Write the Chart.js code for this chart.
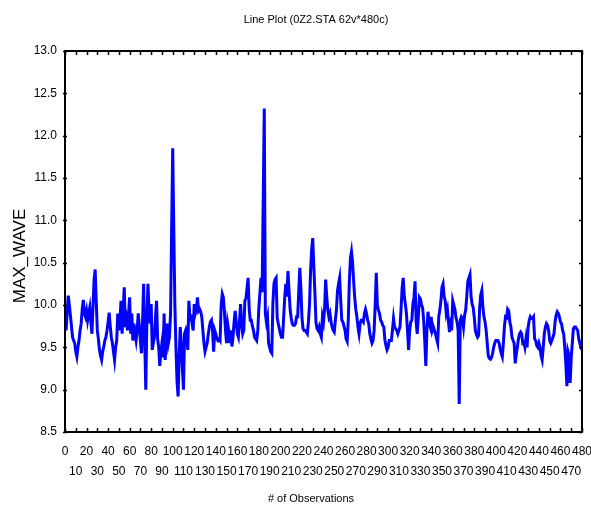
<!DOCTYPE html>
<html>
<head>
<meta charset="utf-8">
<script src="https://cdn.jsdelivr.net/npm/chart.js@4.4.1/dist/chart.umd.min.js"></script>
<style>
  html, body { margin: 0; padding: 0; background: #fff; }
  #wrap { width: 591px; height: 509px; }
</style>
</head>
<body>
<div id="wrap"><canvas id="grafica" width="591" height="509"></canvas></div>
<script>
// MAX_WAVE por observación (1..480)
const maxWave = [
  9.70, 9.90, 10.11, 10.00, 9.88, 9.75, 9.62, 9.58, 9.55, 9.45,
  9.39, 9.50, 9.58, 9.70, 9.78, 9.95, 10.06, 9.90, 9.86, 9.93,
  9.82, 9.90, 9.97, 9.80, 9.66, 9.97, 10.30, 10.42, 10.05, 9.70,
  9.60, 9.47, 9.40, 9.35, 9.45, 9.51, 9.58, 9.62, 9.70, 9.80,
  9.91, 9.75, 9.62, 9.55, 9.45, 9.35, 9.50, 9.58, 9.90, 9.70,
  9.82, 10.05, 9.66, 9.93, 10.21, 9.74, 9.82, 9.70, 9.90, 10.09,
  9.66, 9.90, 9.58, 9.78, 9.66, 9.58, 9.70, 9.90, 9.75, 9.58,
  9.43, 9.80, 10.25, 9.60, 9.00, 9.80, 10.25, 9.95, 9.78, 10.01,
  9.47, 9.55, 9.62, 9.85, 10.05, 9.60, 9.50, 9.28, 9.45, 9.55,
  9.38, 9.90, 9.35, 9.60, 9.78, 9.55, 9.62, 9.90, 10.90, 11.85,
  10.90, 10.00, 9.50, 9.10, 8.92, 9.40, 9.74, 9.55, 9.24, 9.00,
  9.66, 9.70, 9.62, 9.47, 10.05, 9.85, 9.86, 9.78, 9.70, 10.01,
  9.90, 9.95, 10.09, 9.93, 9.95, 9.92, 9.86, 9.70, 9.55, 9.45,
  9.50, 9.55, 9.65, 9.74, 9.80, 9.82, 9.70, 9.45, 9.70, 9.66,
  9.60, 9.58, 9.60, 9.58, 10.00, 10.13, 10.09, 9.93, 9.70, 9.55,
  9.78, 9.70, 9.55, 9.70, 9.51, 9.62, 9.80, 9.93, 9.80, 9.66,
  9.62, 9.80, 10.01, 9.78, 9.66, 9.70, 10.05, 10.08, 10.20, 10.32,
  9.95, 9.82, 9.82, 9.75, 9.70, 9.62, 9.60, 9.58, 9.70, 9.97,
  10.15, 10.32, 10.15, 11.20, 12.32, 9.90, 9.80, 9.86, 9.55, 9.50,
  9.45, 9.43, 10.01, 10.25, 10.30, 10.32, 9.85, 9.78, 9.72, 9.66,
  9.62, 9.62, 9.85, 10.09, 10.25, 10.10, 10.40, 10.17, 9.95, 9.85,
  9.78, 9.76, 9.76, 9.78, 9.86, 9.86, 10.15, 10.44, 10.20, 9.85,
  9.72, 9.70, 9.70, 9.68, 9.66, 9.80, 10.00, 10.40, 10.65, 10.79,
  10.45, 10.15, 9.80, 9.72, 9.70, 9.74, 9.66, 9.62, 9.86, 9.80,
  9.95, 10.30, 10.10, 9.94, 9.86, 9.90, 9.80, 9.74, 9.70, 9.68,
  9.82, 9.94, 10.17, 10.25, 10.32, 10.05, 9.82, 9.80, 9.75, 9.70,
  9.60, 9.57, 9.82, 10.28, 10.55, 10.63, 10.50, 10.28, 10.08, 9.95,
  9.86, 9.74, 9.66, 9.78, 9.82, 9.82, 9.80, 9.90, 9.95, 9.90,
  9.82, 9.78, 9.66, 9.60, 9.55, 9.58, 9.70, 10.00, 10.38, 10.00,
  9.94, 9.90, 9.82, 9.80, 9.76, 9.74, 9.59, 9.52, 9.47, 9.50,
  9.58, 9.58, 9.58, 9.70, 9.84, 9.74, 9.72, 9.70, 9.66, 9.70,
  9.74, 9.95, 10.20, 10.32, 10.10, 10.01, 9.90, 9.70, 9.47, 9.70,
  9.80, 9.82, 10.01, 10.09, 10.28, 9.80, 9.66, 9.85, 10.09, 10.07,
  10.00, 9.97, 9.82, 9.58, 9.28, 9.70, 9.92, 9.80, 9.75, 9.86,
  9.70, 9.74, 9.70, 9.66, 9.60, 9.55, 9.86, 9.94, 10.05, 10.21,
  10.25, 10.10, 10.05, 9.90, 9.95, 9.80, 9.68, 9.85, 9.70, 10.05,
  10.00, 9.95, 9.85, 9.80, 9.70, 8.83, 9.82, 9.86, 9.84, 9.74,
  9.88, 9.94, 10.10, 10.28, 10.32, 10.36, 10.10, 10.01, 9.97, 9.85,
  9.70, 9.65, 9.62, 9.64, 9.97, 10.12, 10.17, 9.97, 9.86, 9.80,
  9.70, 9.55, 9.40, 9.37, 9.36, 9.38, 9.43, 9.50, 9.55, 9.58,
  9.58, 9.58, 9.55, 9.48, 9.43, 9.39, 9.55, 9.75, 9.86, 9.85,
  9.95, 9.93, 9.80, 9.74, 9.62, 9.58, 9.55, 9.31, 9.42, 9.50,
  9.60, 9.66, 9.68, 9.66, 9.55, 9.56, 9.50, 9.60, 9.50, 9.74,
  9.82, 9.86, 9.84, 9.84, 9.86, 9.60, 9.58, 9.52, 9.50, 9.55,
  9.50, 9.40, 9.35, 9.50, 9.66, 9.74, 9.78, 9.76, 9.70, 9.58,
  9.55, 9.58, 9.62, 9.66, 9.80, 9.88, 9.92, 9.90, 9.86, 9.80,
  9.78, 9.70, 9.66, 9.50, 9.30, 9.04, 9.45, 9.40, 9.08, 9.38,
  9.55, 9.72, 9.74, 9.74, 9.72, 9.70, 9.60, 9.55, 9.50, 9.47
];

// Ejes
const xMin = 0, xMax = 480, xPaso = 10;
const yMin = 8.5, yMax = 13.0, yPaso = 0.5;

const titulo = "Line Plot (0Z2.STA 62v*480c)";
const tituloX = "# of Observations";
const tituloY = "MAX_WAVE";

const SANS = '"Liberation Sans", Arial, sans-serif';

const puntos = maxWave.map((v, i) => ({ x: i + 1, y: v }));

// Marco, marcas interiores y títulos
const marcoPlugin = {
  id: "marco",
  afterDraw(chart) {
    const ctx = chart.ctx;
    const a = chart.chartArea;
    const sx = chart.scales.x, sy = chart.scales.y;
    ctx.save();
    ctx.strokeStyle = "#000";
    ctx.lineWidth = 1.5;
    ctx.beginPath();
    for (let v = xMin; v <= xMax; v += xPaso) {
      const px = Math.round(sx.getPixelForValue(v)) + 0.5;
      ctx.moveTo(px, a.top); ctx.lineTo(px, a.top + 4);
      ctx.moveTo(px, a.bottom); ctx.lineTo(px, a.bottom - 4);
    }
    for (let v = yMin; v <= yMax + 1e-9; v += yPaso) {
      const py = Math.round(sy.getPixelForValue(v)) + 0.5;
      ctx.moveTo(a.left - 2, py); ctx.lineTo(a.left + 2, py);
      ctx.moveTo(a.right, py); ctx.lineTo(a.right - 3, py);
    }
    ctx.stroke();
    ctx.lineWidth = 2;
    ctx.strokeRect(a.left, a.top, a.right - a.left, a.bottom - a.top);

    ctx.fillStyle = "#000";
    ctx.textAlign = "center";
    ctx.textBaseline = "middle";
    ctx.font = "11px " + SANS;
    ctx.fillText(titulo, 316, 20);
    ctx.fillText(tituloX, 311, 499);

    ctx.font = "17px " + SANS;
    ctx.translate(20, 256);
    ctx.rotate(-Math.PI / 2);
    ctx.fillText(tituloY, 0, 0);
    ctx.restore();
  }
};
Chart.register(marcoPlugin);

new Chart(document.getElementById("grafica").getContext("2d"), {
  type: "line",
  data: {
    datasets: [{
      data: puntos,
      borderColor: "#0000ff",
      borderWidth: 3,
      pointRadius: 0,
      tension: 0,
      fill: false
    }]
  },
  options: {
    responsive: false,
    animation: false,
    layout: { padding: { top: 51, right: 9, bottom: 0, left: 0 } },
    plugins: {
      legend: { display: false },
      tooltip: { enabled: false },
      title: { display: false }
    },
    scales: {
      x: {
        type: "linear",
        min: xMin,
        max: xMax,
        grid: { display: false, drawTicks: false },
        border: { display: false },
        afterFit: s => { s.height = 77; s.paddingLeft = 0; s.paddingRight = 0; },
        ticks: {
          stepSize: xPaso,
          autoSkip: false,
          maxRotation: 0,
          minRotation: 0,
          padding: 10,
          color: "#000",
          font: { family: SANS, size: 12, lineHeight: 1.65 },
          callback: v => ((v / xPaso) % 2 === 0 ? [String(v), ""] : ["", String(v)])
        }
      },
      y: {
        min: yMin,
        max: yMax,
        grid: { display: false, drawTicks: false },
        border: { display: false },
        afterFit: s => { s.width = 65; },
        ticks: {
          stepSize: yPaso,
          padding: 8,
          color: "#000",
          font: { family: SANS, size: 12 },
          callback: v => Number(v).toFixed(1)
        }
      }
    }
  }
});
</script>
</body>
</html>
